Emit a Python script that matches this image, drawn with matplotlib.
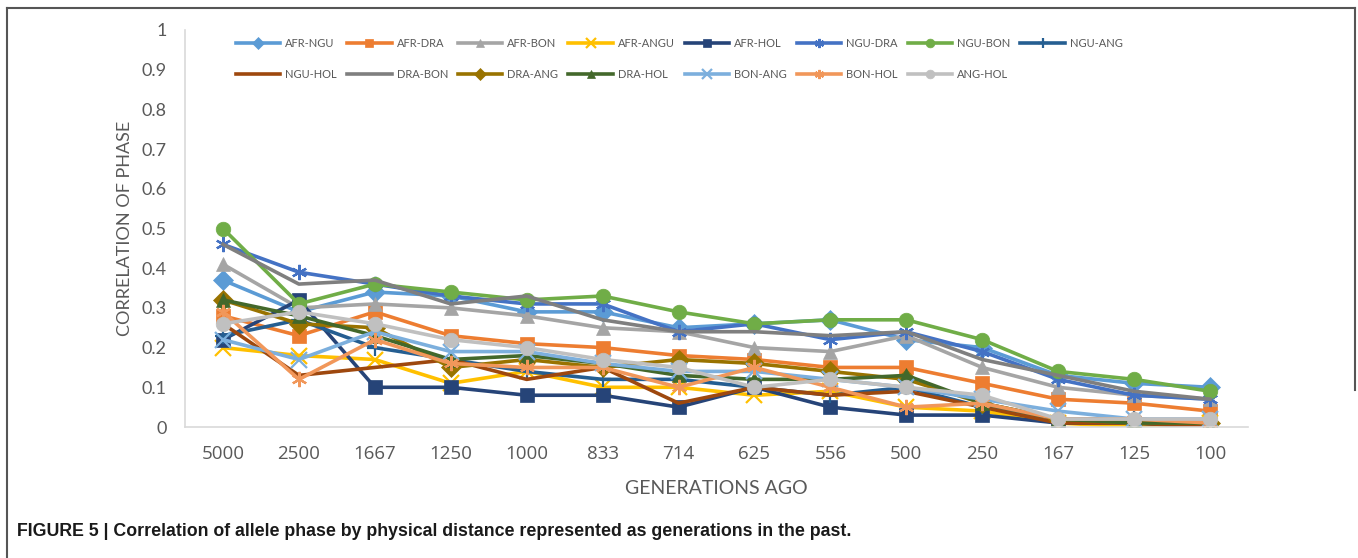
import numpy as np
import matplotlib
matplotlib.use('Agg')
import matplotlib.pyplot as plt
from matplotlib.lines import Line2D

plt.rcParams['font.family'] = ['Lato', 'DejaVu Sans']

gens = ['5000', '2500', '1667', '1250', '1000', '833', '714', '625', '556', '500', '250', '167', '125', '100']

afr_ngu = [0.37, 0.29, 0.34, 0.33, 0.29, 0.29, 0.25, 0.26, 0.27, 0.22, 0.20, 0.13, 0.11, 0.10]
afr_dra = [0.28, 0.23, 0.29, 0.23, 0.21, 0.20, 0.18, 0.17, 0.15, 0.15, 0.11, 0.07, 0.06, 0.04]
afr_bon = [0.41, 0.30, 0.31, 0.30, 0.28, 0.25, 0.24, 0.20, 0.19, 0.23, 0.15, 0.10, 0.08, 0.07]
afr_angu = [0.20, 0.18, 0.17, 0.11, 0.14, 0.10, 0.10, 0.08, 0.09, 0.05, 0.04, 0.01, 0.00, 0.01]
afr_hol = [0.22, 0.32, 0.10, 0.10, 0.08, 0.08, 0.05, 0.10, 0.05, 0.03, 0.03, 0.01, 0.01, 0.00]
ngu_dra = [0.46, 0.39, 0.36, 0.33, 0.31, 0.31, 0.24, 0.26, 0.22, 0.24, 0.19, 0.12, 0.08, 0.07]
ngu_bon = [0.50, 0.31, 0.36, 0.34, 0.32, 0.33, 0.29, 0.26, 0.27, 0.27, 0.22, 0.14, 0.12, 0.09]
ngu_ang = [0.23, 0.27, 0.20, 0.17, 0.14, 0.12, 0.12, 0.10, 0.08, 0.10, 0.05, 0.02, 0.02, 0.01]
ngu_hol = [0.26, 0.13, 0.15, 0.17, 0.12, 0.15, 0.06, 0.10, 0.08, 0.09, 0.05, 0.01, 0.01, 0.00]
dra_bon = [0.46, 0.36, 0.37, 0.31, 0.33, 0.27, 0.24, 0.24, 0.23, 0.24, 0.17, 0.13, 0.09, 0.07]
dra_ang = [0.32, 0.26, 0.25, 0.15, 0.17, 0.15, 0.17, 0.16, 0.14, 0.12, 0.06, 0.02, 0.01, 0.01]
dra_hol = [0.32, 0.28, 0.23, 0.17, 0.18, 0.16, 0.13, 0.12, 0.12, 0.13, 0.06, 0.02, 0.01, 0.01]
bon_ang = [0.22, 0.17, 0.24, 0.19, 0.19, 0.16, 0.14, 0.14, 0.12, 0.10, 0.07, 0.04, 0.02, 0.02]
bon_hol = [0.29, 0.12, 0.22, 0.16, 0.15, 0.15, 0.10, 0.15, 0.10, 0.05, 0.06, 0.02, 0.02, 0.01]
ang_hol = [0.26, 0.29, 0.26, 0.22, 0.20, 0.17, 0.15, 0.10, 0.12, 0.10, 0.08, 0.02, 0.02, 0.02]

star = (6, 2, 0)
# name, values, colour, marker
series = [
    ('AFR-NGU', afr_ngu, '#5B9BD5', 'D'),
    ('AFR-DRA', afr_dra, '#ED7D31', 's'),
    ('AFR-BON', afr_bon, '#A5A5A5', '^'),
    ('AFR-ANGU', afr_angu, '#FFC000', 'x'),
    ('AFR-HOL', afr_hol, '#264478', 's'),
    ('NGU-DRA', ngu_dra, '#4472C4', star),
    ('NGU-BON', ngu_bon, '#70AD47', 'o'),
    ('NGU-ANG', ngu_ang, '#255E91', '+'),
    ('NGU-HOL', ngu_hol, '#9E480E', None),
    ('DRA-BON', dra_bon, '#7F7F7F', None),
    ('DRA-ANG', dra_ang, '#997300', 'D'),
    ('DRA-HOL', dra_hol, '#43682B', '^'),
    ('BON-ANG', bon_ang, '#7CAFDD', 'x'),
    ('BON-HOL', bon_hol, '#F1975A', star),
    ('ANG-HOL', ang_hol, '#C0C0C0', 'o'),
]

fig = plt.figure(figsize=(13.58, 5.58), dpi=100)
ax = fig.add_axes([185 / 1358, 1 - 427 / 558, (1248 - 185) / 1358, (427 - 30) / 558])

x = np.arange(len(gens))
handles = []
for name, vals, col, mk in series:
    thin = mk in ('x', '+', star)
    h, = ax.plot(x, vals, color=col, lw=2.6, marker=mk, markersize=11 if thin else 10.5,
                 markeredgewidth=1.6 if thin else 0.5,
                 markeredgecolor=col, label=name)
    handles.append(h)

ax.set_xlim(-0.5, len(gens) - 0.5)
ax.set_ylim(0, 1)
ax.set_yticks(np.arange(0, 1.01, 0.1))
ax.set_yticklabels(['0', '0.1', '0.2', '0.3', '0.4', '0.5', '0.6', '0.7', '0.8', '0.9', '1'])
ax.set_xticks(x)
ax.set_xticklabels(gens)
ax.tick_params(axis='both', length=0, colors='#595959', labelsize=13)
ax.tick_params(axis='y', pad=13)
ax.tick_params(axis='x', pad=13, labelsize=13.5)
for lab in ax.get_xticklabels():
    lab.set_fontfamily(['Open Sans', 'DejaVu Sans'])
for s in ['top', 'right']:
    ax.spines[s].set_visible(False)
for s in ['left', 'bottom']:
    ax.spines[s].set_color('#D9D9D9')
    ax.spines[s].set_linewidth(1.2)

ax.set_ylabel('CORRELATION OF PHASE', fontsize=13, color='#595959', labelpad=6)
ax.set_xlabel('GENERATIONS AGO', fontsize=14, color='#595959', labelpad=12)

# legend laid out row by row like the Excel legend
row1 = handles[:8]
row2 = handles[8:]
order = []
for i in range(8):
    order.append(row1[i])
    if i < len(row2):
        order.append(row2[i])
leg = fig.legend(order, [h.get_label() for h in order], ncol=8, loc='upper left',
                 bbox_to_anchor=(226 / 1358, 1 - 28 / 558), frameon=False,
                 fontsize=8, handlelength=4.0, handletextpad=0.45,
                 columnspacing=0.9, labelspacing=1.8, markerscale=0.6)
for t in leg.get_texts():
    t.set_color('#595959')

# outer frame
fc = '#555555'
fig.add_artist(Line2D([7 / 1358, 1355 / 1358], [1 - 8 / 558, 1 - 8 / 558], color=fc, lw=1.5))
fig.add_artist(Line2D([7 / 1358, 7 / 1358], [0, 1 - 8 / 558], color=fc, lw=1.5))
fig.add_artist(Line2D([1355 / 1358, 1355 / 1358], [1 - 390 / 558, 1 - 8 / 558], color=fc, lw=1.5))

fig.text(17 / 1358, 1 - 531 / 558,
         'FIGURE 5 | Correlation of allele phase by physical distance represented as generations in the past.',
         fontsize=12.8, fontweight='bold', va='center', ha='left',
         family=['Liberation Sans Narrow', 'Liberation Sans', 'DejaVu Sans'], color='#1a1a1a')

fig.savefig('out.png', dpi=100)
